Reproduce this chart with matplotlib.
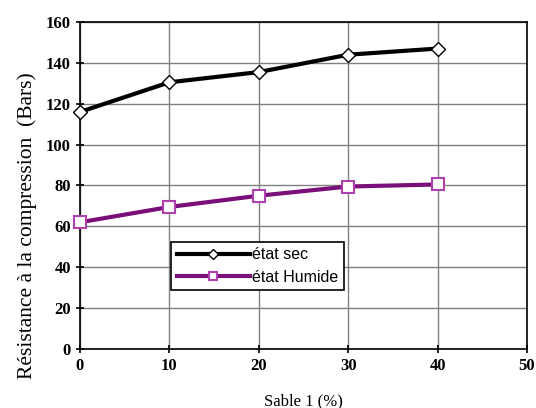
import matplotlib.pyplot as plt

sable = [0, 10, 20, 30, 40]
etat_sec = [116, 130.5, 135.5, 144, 147]
etat_humide = [62, 69.5, 75, 79.5, 80.5]

fig = plt.figure(figsize=(5.36, 4.08), dpi=100)
ax = fig.add_axes([80/536, 1 - 349/408, 447/536, 327/408])

ax.plot(sable, etat_sec, color='black', lw=3, marker='D', ms=7,
        mfc='white', mec='black', mew=1, label='état sec', zorder=3, clip_on=False)
ax.plot(sable, etat_humide, color='#7a0f7a', lw=3, marker='s', ms=9,
        mfc='white', mec='#b040b0', mew=1.5, label='état Humide', zorder=3, clip_on=False)

ax.set_xlim(0, 50)
ax.set_ylim(0, 160)
ax.set_xticks(range(0, 51, 10))
ax.set_yticks(range(0, 161, 20))
ax.grid(True, color='#808080', lw=1)
for s in ax.spines.values():
    s.set_color('black')
    s.set_linewidth(1.2)
ax.tick_params(direction='inout', length=6, width=1.2)
for lbl in ax.get_xticklabels() + ax.get_yticklabels():
    lbl.set_fontfamily('Liberation Serif')
    lbl.set_fontweight('bold')
    lbl.set_fontsize(12)

ax.set_xlabel('Sable 1 (%)', family='Liberation Serif', fontsize=12, labelpad=14)
ax.set_ylabel('Résistance à la compression  (Bars)', family='Liberation Serif',
              fontsize=15.5)
ax.yaxis.set_label_coords(-0.097, 0.376)

leg = ax.legend(loc='lower left', bbox_to_anchor=(0.2036, 0.18), borderaxespad=0,
                prop={'family': 'Liberation Sans', 'size': 11.5},
                frameon=True, fancybox=False, edgecolor='black', framealpha=1,
                handlelength=4.6, handletextpad=0.1, borderpad=0.35, labelspacing=0.45,
                markerscale=0.7)
leg.get_frame().set_linewidth(1.2)

fig.savefig('out.png', dpi=100)
